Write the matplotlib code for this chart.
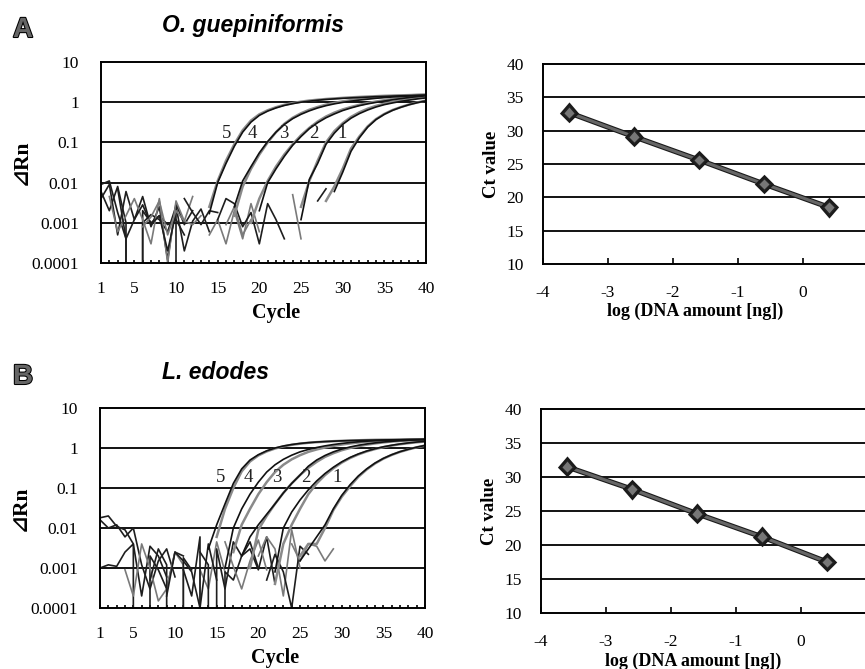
import numpy as np
import matplotlib
matplotlib.use("Agg")
import matplotlib.pyplot as plt
import matplotlib.patheffects as pe
from matplotlib.ticker import FixedLocator

plt.rcParams["axes.unicode_minus"] = False

SERIF = ["Liberation Serif", "DejaVu Serif", "DejaVu Sans"]
SANS = ["Liberation Sans", "DejaVu Sans"]

# amplification curves: start cycle + dRn values, dilutions 1..5
A_starts1 = [29, 25, 20, 17, 14]
A_rep1 = [
    [0.006, 0.018, 0.06, 0.13, 0.24, 0.37, 0.5, 0.63, 0.75, 0.87, 0.98, 1.08],
    [0.0012, 0.012, 0.03, 0.09, 0.17, 0.28, 0.4, 0.52, 0.64, 0.76, 0.87, 0.96, 1.05, 1.13, 1.21, 1.28],
    [0.002, 0.01, 0.022, 0.045, 0.085, 0.14, 0.22, 0.31, 0.41, 0.51, 0.62, 0.72, 0.82, 0.91, 0.99,
     1.07, 1.15, 1.23, 1.31, 1.38, 1.45],
    [0.0025, 0.011, 0.025, 0.055, 0.105, 0.18, 0.28, 0.39, 0.5, 0.61, 0.72, 0.82, 0.91, 0.99, 1.06,
     1.13, 1.19, 1.25, 1.3, 1.35, 1.39, 1.43, 1.46, 1.49],
    [0.0017, 0.01, 0.03, 0.08, 0.18, 0.32, 0.47, 0.6, 0.72, 0.83, 0.92, 1.0, 1.06, 1.12, 1.17, 1.21,
     1.25, 1.28, 1.31, 1.34, 1.37, 1.39, 1.42, 1.44, 1.46, 1.48, 1.5],
]
A_starts2 = [28, 25, 19, 17, 14]
A_rep2 = [
    [0.0035, 0.008, 0.022, 0.07, 0.14, 0.25, 0.38, 0.51, 0.64, 0.76, 0.88, 0.99, 1.1],
    [0.0025, 0.011, 0.035, 0.1, 0.19, 0.3, 0.43, 0.56, 0.69, 0.81, 0.92, 1.02, 1.11, 1.2, 1.28, 1.35],
    [0.001, 0.004, 0.011, 0.025, 0.05, 0.09, 0.15, 0.23, 0.33, 0.44, 0.55, 0.66, 0.76, 0.86, 0.95,
     1.04, 1.12, 1.2, 1.28, 1.35, 1.41, 1.47],
    [0.0015, 0.008, 0.022, 0.05, 0.1, 0.18, 0.29, 0.41, 0.53, 0.65, 0.76, 0.87, 0.96, 1.05, 1.13,
     1.2, 1.26, 1.32, 1.37, 1.41, 1.45, 1.48, 1.51, 1.53],
    [0.0025, 0.011, 0.035, 0.09, 0.2, 0.35, 0.5, 0.63, 0.75, 0.86, 0.95, 1.03, 1.1, 1.15, 1.2, 1.24,
     1.28, 1.32, 1.35, 1.38, 1.41, 1.44, 1.46, 1.48, 1.5, 1.52, 1.54],
]
# baseline noise (0 = non-positive reading)
A_noise_starts = [1, 1, 1, 2, 14, 15, 24, 16, 27, 3, 6, 11]
A_noise = [
    [0.004, 0.009, 0.0005, 0.006, 0.0012, 0.0045, 0.0008, 0.0025, 0.00012, 0.003, 0.0009, 0.002],
    [0.009, 0.011, 0.0018, 0.0004, 0.0, 0.001, 0.0016, 0.0012, 0.0006, 0.0026, 0.0002, 0.0011, 0.0022, 0.0006],
    [0.006, 0.002, 0.008, 0.001, 0.0, 0.002, 0.001, 0.0015, 0.0009, 0.0012, 0.0005],
    [0.0045, 0.0006, 0.0015, 0.004, 0.0012, 0.0003, 0.004, 0.0001, 0.0035, 0.0011, 0.0009, 0.0015],
    [0.0005, 0.0012, 0.0003, 0.002, 0.0004, 0.003, 0.0006],
    [0.0012, 0.004, 0.003, 0.0008, 0.0018, 0.0003, 0.003, 0.0012, 0.0004],
    [0.005, 0.0004],
    [0.0009, 0.0025, 0.0005, 0.0012],
    [0.0035, 0.007],
    [0.007, 0.0004, 0.0012, 0.0028, 0.0009, 0.0015, 0.0002, 0.0018, 0.0],
    [0.0008, 0.0014, 0.0035, 0.0005, 0.002, 0.0011, 0.0045],
    [0.004, 0.0018, 0.0009, 0.002, 0.0018],
]
A_label_x = [29.9, 26.5, 22.9, 19.2, 16.1]
A_label_y = [0.17, 0.17, 0.17, 0.17, 0.17]

B_starts1 = [25, 22, 18, 16, 14]
B_rep1 = [
    [0.0015, 0.003, 0.006, 0.012, 0.03, 0.065, 0.12, 0.2, 0.3, 0.42, 0.55, 0.68, 0.81, 0.93, 1.05, 1.16],
    [0.0008, 0.01, 0.025, 0.05, 0.09, 0.15, 0.23, 0.33, 0.45, 0.58, 0.71, 0.84, 0.96, 1.07, 1.17,
     1.26, 1.34, 1.41, 1.47],
    [0.002, 0.006, 0.012, 0.022, 0.04, 0.075, 0.13, 0.21, 0.35, 0.5, 0.65, 0.8, 0.94, 1.06, 1.17,
     1.26, 1.34, 1.41, 1.47, 1.52, 1.56, 1.59, 1.62],
    [0.001, 0.01, 0.03, 0.07, 0.14, 0.25, 0.38, 0.52, 0.66, 0.8, 0.92, 1.03, 1.13, 1.22, 1.3, 1.37,
     1.43, 1.48, 1.52, 1.55, 1.58, 1.6, 1.62, 1.63, 1.64],
    [0.003, 0.012, 0.04, 0.13, 0.3, 0.5, 0.68, 0.85, 1.0, 1.12, 1.22, 1.3, 1.36, 1.41, 1.45, 1.48,
     1.51, 1.53, 1.55, 1.57, 1.58, 1.59, 1.6, 1.61, 1.62, 1.63, 1.64],
]
B_starts2 = [25, 22, 19, 17, 15]
B_rep2 = [
    [0.002, 0.004, 0.004, 0.01, 0.028, 0.06, 0.11, 0.19, 0.29, 0.41, 0.54, 0.67, 0.8, 0.92, 1.04, 1.15],
    [0.0004, 0.004, 0.012, 0.03, 0.07, 0.13, 0.21, 0.31, 0.43, 0.56, 0.69, 0.82, 0.94, 1.05, 1.15,
     1.24, 1.32, 1.39, 1.45],
    [0.001, 0.009, 0.02, 0.04, 0.075, 0.13, 0.21, 0.32, 0.45, 0.6, 0.74, 0.88, 1.0, 1.11, 1.21, 1.3,
     1.38, 1.45, 1.5, 1.54, 1.57, 1.6],
    [0.0025, 0.012, 0.03, 0.07, 0.14, 0.25, 0.38, 0.52, 0.66, 0.8, 0.92, 1.03, 1.13, 1.22, 1.3, 1.37,
     1.43, 1.48, 1.52, 1.55, 1.58, 1.6, 1.62, 1.64],
    [0.006, 0.03, 0.1, 0.26, 0.46, 0.65, 0.82, 0.97, 1.1, 1.2, 1.28, 1.35, 1.4, 1.44, 1.48, 1.51,
     1.54, 1.56, 1.58, 1.6, 1.61, 1.62, 1.63, 1.64, 1.65, 1.66],
]
B_noise_starts = [1, 1, 1, 4, 11, 13, 20, 21, 24, 7, 9, 16]
B_noise = [
    [0.018, 0.02, 0.011, 0.009, 0.004, 0.0002, 0.0035, 0.002, 0.0006],
    [0.016, 0.01, 0.012, 0.006, 0.01, 0.0012, 0.0003, 0.0015, 0.003, 0.0006],
    [0.001, 0.0012, 0.0011, 0.0025, 0.004, 0.0, 0.002, 0.0009, 0.0003, 0.0025, 0.002],
    [0.0009, 0.0002, 0.004, 0.001, 0.00015, 0.0003, 0.0025, 0.0012, 0.0, 0.0009, 0.0003, 0.0045, 0.0008],
    [0.0009, 0.0002, 0.006, 0.0, 0.003, 0.0003, 0.0045, 0.002, 0.0045, 0.001],
    [0.0025, 0.0012, 0.0, 0.0008, 0.0005, 0.002, 0.003, 0.0009, 0.006, 0.0004],
    [0.002, 0.006, 0.003, 0.0002, 0.009, 0.001],
    [0.0005, 0.0022, 0.0008, 0.0001, 0.0035, 0.0022],
    [0.004, 0.0015, 0.004, 0.0035, 0.0015, 0.003],
    [0.0005, 0.003, 0.0012, 0.0, 0.0018, 0.0009],
    [0.0002, 0.0025, 0.0015, 0.0008, 0.0001, 0.004, 0.0005],
    [0.0045, 0.0011, 0.0003, 0.0015, 0.005, 0.0009],
]
B_label_x = [29.4, 25.7, 22.2, 18.8, 15.5]
B_label_y = [0.18, 0.18, 0.18, 0.18, 0.18]

# standard curves
log_dna = [-3.6, -2.6, -1.6, -0.6, 0.4]
ct_A = [32.7, 29.1, 25.6, 22.0, 18.5]
ct_B = [31.5, 28.2, 24.6, 21.2, 17.5]

W, H = 865, 669
fig = plt.figure(figsize=(W / 100, H / 100), dpi=100)


def px_axes(l, t, r, b):
    return fig.add_axes([l / W, 1 - b / H, (r - l) / W, (b - t) / H])


def amp_panel(ax, s1, r1, s2, r2, ns, nv, lx, ly):
    for st, vals in zip(ns, nv):
        x = np.arange(st, st + len(vals))
        col = "#1e1e1e" if st % 2 else "#7a7a7a"
        ax.plot(x, vals, color=col, lw=1.2)
    for st, vals in zip(s2, r2):
        ax.plot(np.arange(st, st + len(vals)), vals, color="#8a8a8a", lw=1.8)
    for st, vals in zip(s1, r1):
        ax.plot(np.arange(st, st + len(vals)), vals, color="#111111", lw=1.2)
    for i, (x, y) in enumerate(zip(lx, ly)):
        ax.text(x, y, str(i + 1), family=SERIF, fontsize=13.5, ha="center", va="center",
                color="#222222")
    ax.set_yscale("log", nonpositive="clip")
    ax.set_ylim(1e-4, 10)
    ax.set_xlim(1, 40)
    for v in [1e-3, 1e-2, 1e-1, 1]:
        ax.axhline(v, color="black", lw=1.3, zorder=0.5)
    ax.xaxis.set_major_locator(FixedLocator([1, 5, 10, 15, 20, 25, 30, 35, 40]))
    ax.xaxis.set_minor_locator(FixedLocator(list(range(1, 41))))
    ax.yaxis.set_major_locator(FixedLocator([1e-4, 1e-3, 1e-2, 0.1, 1, 10]))
    ax.yaxis.set_minor_locator(FixedLocator([]))
    ax.set_yticklabels(["0.0001", "0.001", "0.01", "0.1", "1", "10"])
    ax.tick_params(axis="x", which="both", direction="in", length=2.5, width=1.2, pad=13,
                   labelsize=12.5)
    ax.tick_params(axis="y", which="both", length=0, pad=16, labelsize=12.5)
    for lab in ax.get_xticklabels() + ax.get_yticklabels():
        lab.set_family(SERIF)
    for sp in ax.spines.values():
        sp.set_linewidth(1.4)
    ax.text(0.54, -0.25, "Cycle", transform=ax.transAxes, ha="center", va="center",
            family=SERIF, fontsize=14.5, fontweight="bold")
    ax.text(-0.245, 0.5, "\u22bfRn", transform=ax.transAxes, ha="center", va="center",
            rotation=90, family=SERIF, fontsize=15.5, fontweight="bold")


def ct_panel(ax, ct):
    ax.plot(log_dna, ct, color="#666666", lw=2.2, marker="D", markersize=6.5,
            markerfacecolor="#777777", markeredgecolor="#222222", markeredgewidth=1.0,
            path_effects=[pe.Stroke(linewidth=3.8, foreground="#1a1a1a"), pe.Normal()])
    ax.set_xlim(-4, 1)
    ax.set_ylim(10, 40)
    for v in [15, 20, 25, 30, 35]:
        ax.axhline(v, color="black", lw=1.3, zorder=0.5)
    ax.xaxis.set_major_locator(FixedLocator([-4, -3, -2, -1, 0, 1]))
    ax.set_xticklabels(["-4", "-3", "-2", "-1", "0", ""])
    ax.yaxis.set_major_locator(FixedLocator([10, 15, 20, 25, 30, 35, 40]))
    ax.tick_params(axis="x", direction="in", length=4, width=1.2, pad=15, labelsize=12.5)
    ax.tick_params(axis="y", length=0, pad=14, labelsize=12.5)
    for lab in ax.get_xticklabels() + ax.get_yticklabels():
        lab.set_family(SERIF)
    for sp in ax.spines.values():
        sp.set_linewidth(1.4)
    ax.text(0.468, -0.235, "log (DNA amount [ng])", transform=ax.transAxes, ha="center",
            va="center", family=SERIF, fontsize=13, fontweight="bold")
    ax.text(-0.16, 0.5, "Ct value", transform=ax.transAxes, ha="center", va="center",
            rotation=90, family=SERIF, fontsize=13.5, fontweight="bold")


axA1 = px_axes(101, 62, 426, 263)
amp_panel(axA1, A_starts1, A_rep1, A_starts2, A_rep2, A_noise_starts, A_noise, A_label_x, A_label_y)
axA2 = px_axes(543, 64, 868, 264)
ct_panel(axA2, ct_A)

axB1 = px_axes(100, 408, 425, 608)
amp_panel(axB1, B_starts1, B_rep1, B_starts2, B_rep2, B_noise_starts, B_noise, B_label_x, B_label_y)
axB2 = px_axes(541, 409, 866, 613)
ct_panel(axB2, ct_B)

outline = [pe.withStroke(linewidth=1.5, foreground="black")]
for letter, title, tx, ty in [("A", "O. guepiniformis", 253, 32), ("B", "L. edodes", 216, 379)]:
    fig.text(23 / W, 1 - (ty + 5) / H, letter, family=SANS, fontsize=20, fontweight="bold",
             color="#666666", ha="center", va="baseline", path_effects=outline)
    fig.text(tx / W, 1 - ty / H, title, family=SANS, fontsize=16.5, fontweight="bold",
             style="italic", ha="center", va="baseline")

fig.savefig("out.png", dpi=100)
